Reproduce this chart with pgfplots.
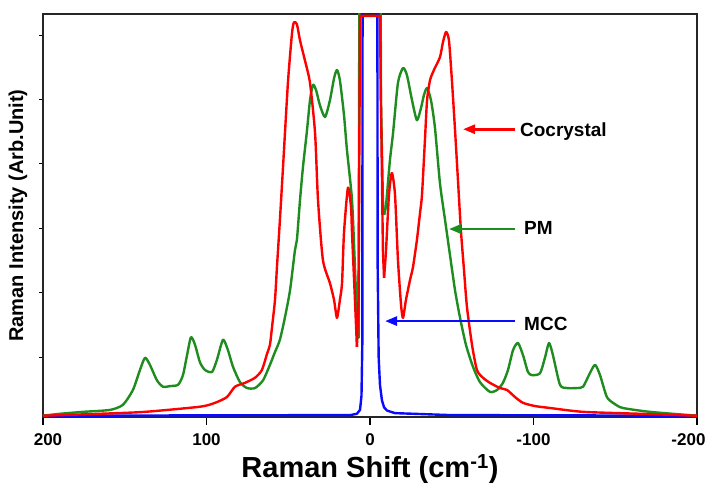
\documentclass[border=0pt]{standalone}
\usepackage{fontspec}
\setmainfont{Liberation Sans}
\usepackage{pgfplots}
\pgfplotsset{compat=1.18}
\usetikzlibrary{arrows.meta}

\definecolor{cocr}{RGB}{255,0,0}
\definecolor{pmgreen}{RGB}{30,140,30}
\definecolor{mccblue}{RGB}{10,10,255}

\begin{document}
\begin{tikzpicture}
\useasboundingbox (-43bp,-69bp) rectangle (667bp,417bp);
\begin{axis}[
  scale only axis, width=654bp, height=403bp,
  x dir=reverse,
  xmin=-200, xmax=200, ymin=0.07, ymax=6.33,
  xtick={-200,-100,0,100,200},
  xticklabels={\hspace*{-17bp}-200,-100,0,100,200\hspace*{-10bp}},
  ytick={1,2,3,4,5,6}, yticklabels={},
  xtick pos=lower, ytick pos=left, tick align=outside,
  xtick style={/pgfplots/major tick length=8bp, line width=1.2bp, black},
  ytick style={/pgfplots/major tick length=4bp, line width=1bp, black},
  axis line style={line width=1.5bp, black!85},
  xticklabel style={font=\fontsize{17bp}{20bp}\selectfont\bfseries, yshift=-9bp},
  xlabel={Raman Shift (cm\textsuperscript{-1})},
  ylabel={Raman Intensity (Arb.Unit)},
  xlabel style={at={(axis description cs:0.5,-0.149)}, anchor=base,
    font=\fontsize{29bp}{32bp}\selectfont\bfseries},
  ylabel style={at={(axis description cs:-0.0382,0.5)}, anchor=center,
    font=\fontsize{20bp}{23bp}\selectfont\bfseries},
  every axis plot/.append style={line width=2.4bp, line join=round},
  sm/.style={smooth, tension=0.4},
]
% MCC
\addplot[mccblue] coordinates {
  (200,0.09) (12.0,0.10) (8.0,0.12) (6.1,0.18) (5.2,0.40) (4.7,1.2) (4.4,11)
  (-4.3,11) (-4.7,2.4) (-5.3,1.0) (-6.1,0.57) (-7.3,0.33) (-8.6,0.22)
  (-10.4,0.17) (-15.3,0.13) (-48.9,0.10) (-200,0.09)
};
% PM: left wing, central line, right wing
\addplot[pmgreen, sm] coordinates {
  (200,0.09) (189.6,0.12) (175.5,0.15) (159.0,0.18) (151.1,0.26) (145.0,0.49)
  (140.7,0.80) (137.6,0.99) (134.6,0.88) (130.3,0.64) (126.6,0.54) (122.3,0.55)
  (117.4,0.57) (114.4,0.72) (111.9,1.03) (109.5,1.31) (107.0,1.19) (104.0,0.92)
  (100.9,0.80) (96.6,0.77) (93.6,0.96) (89.9,1.27) (86.9,1.11) (83.8,0.85)
  (79.5,0.61) (75.2,0.52) (70.3,0.52) (65.4,0.64) (61.2,0.88) (58.1,1.08)
  (55.1,1.27) (52.0,1.62) (48.9,2.04) (45.9,2.66) (44.7,2.82) (42.8,3.44)
  (41.0,3.95) (38.5,4.53) (36.7,4.99) (34.9,5.23) (33.0,5.15) (30.6,4.91)
  (27.5,4.73) (24.5,4.99) (22.0,5.33) (20.2,5.46) (18.4,5.30) (15.9,4.76)
  (14.1,4.22) (11.0,3.44) (9.2,2.40) (8.0,1.62)
};
\addplot[pmgreen] coordinates {
  (8.0,1.62) (7.0,1.30) (6.1,11) (-6.1,11) (-6.7,4.99) (-7.9,3.44) (-8.6,3.21)
};
\addplot[pmgreen, sm] coordinates {
  (-8.6,3.21) (-9.8,3.36) (-12.2,4.06) (-14.1,4.48)
  (-17.1,5.26) (-20.2,5.49) (-22.6,5.38) (-25.7,4.99) (-28.7,4.68) (-31.2,4.87)
  (-33.0,5.07) (-34.9,5.18) (-37.3,4.99) (-39.7,4.57) (-42.8,3.70) (-45.9,3.13)
  (-48.9,2.59) (-52.0,2.04) (-55.0,1.62) (-58.7,1.19) (-63.0,0.85) (-67.3,0.61)
  (-73.4,0.46) (-77.7,0.49) (-81.3,0.60) (-84.4,0.80) (-87.5,1.11) (-90.5,1.22)
  (-93.6,1.03) (-96.6,0.77) (-99.1,0.72) (-104.0,0.75) (-107.0,0.99) (-109.5,1.22)
  (-111.9,1.03) (-116.2,0.57) (-120.5,0.52) (-126.6,0.52) (-130.3,0.54)
  (-133.9,0.72) (-137.6,0.88) (-140.7,0.72) (-144.9,0.38) (-149.8,0.27)
  (-154.7,0.21) (-171.2,0.15) (-200,0.09)
};
% Cocrystal: left wing, central line, right wing
\addplot[cocr, sm] coordinates {
  (200,0.09) (165.1,0.12) (137.6,0.15) (104.0,0.23) (94.8,0.29) (87.5,0.38)
  (82.6,0.54) (76.5,0.60) (70.3,0.68) (66.1,0.80) (63.0,1.05) (61.2,1.19)
  (59.9,1.47) (58.1,1.89) (56.9,2.40) (55.1,3.13) (53.2,3.95) (50.2,5.26)
  (47.7,6.03) (46.5,6.20) (44.7,6.17) (42.8,5.92) (39.8,5.61) (36.7,5.26)
  (33.6,4.48) (31.8,3.44) (28.8,2.51) (24.5,2.15) (22.0,1.89) (20.2,1.61)
  (18.4,1.89) (17.1,2.15) (15.9,2.93) (13.5,3.63) (11.6,3.33) (11.0,2.93)
  (9.2,1.89) (8.0,1.16)
};
\addplot[cocr] coordinates {
  (8.0,1.16) (7.0,1.89) (6.1,6.30) (-6.1,6.30) (-6.7,4.99) (-7.9,2.66) (-8.6,2.23)
};
\addplot[cocr, sm] coordinates {
  (-8.6,2.23) (-9.8,2.66) (-11.6,3.52) (-13.4,3.86) (-15.3,3.52)
  (-17.1,2.51) (-19.0,1.81) (-20.2,1.61) (-22.0,1.89) (-24.5,2.20) (-26.3,2.40)
  (-28.7,2.82) (-30.6,3.24) (-31.8,3.52) (-33.6,4.37) (-34.9,4.99) (-36.7,5.30)
  (-39.1,5.46) (-42.8,5.66) (-44.6,5.89) (-46.5,6.05) (-48.3,5.92) (-50.1,5.30)
  (-52.0,4.53) (-53.8,3.75) (-55.6,2.97) (-57.5,2.35) (-59.3,1.78) (-62.4,1.19)
  (-65.4,0.80) (-69.1,0.68) (-73.4,0.60) (-79.5,0.52) (-83.8,0.49) (-88.7,0.38)
  (-93.6,0.29) (-100.9,0.24) (-110.1,0.21) (-130.3,0.15) (-165.1,0.12) (-200,0.09)
};
% annotations
\draw[cocr, line width=2.6bp, -{Triangle[length=12bp,width=9bp]}]
  (axis cs:-88.7,4.54) -- (axis cs:-56.9,4.54);
\draw[pmgreen, line width=2.6bp, -{Triangle[length=12bp,width=9bp]}]
  (axis cs:-88.7,2.99) -- (axis cs:-48.3,2.99);
\draw[mccblue, line width=2.6bp, -{Triangle[length=12bp,width=9bp]}]
  (axis cs:-88.7,1.56) -- (axis cs:-9.2,1.56);
\node[anchor=base west, inner sep=0pt, font=\fontsize{19bp}{22bp}\selectfont\bfseries]
  at (axis cs:-91.7,4.42) {Cocrystal};
\node[anchor=base west, inner sep=0pt, font=\fontsize{19bp}{22bp}\selectfont\bfseries]
  at (axis cs:-94.2,2.90) {PM};
\node[anchor=base west, inner sep=0pt, font=\fontsize{19bp}{22bp}\selectfont\bfseries]
  at (axis cs:-94.2,1.41) {MCC};
\end{axis}
\end{tikzpicture}
\end{document}
